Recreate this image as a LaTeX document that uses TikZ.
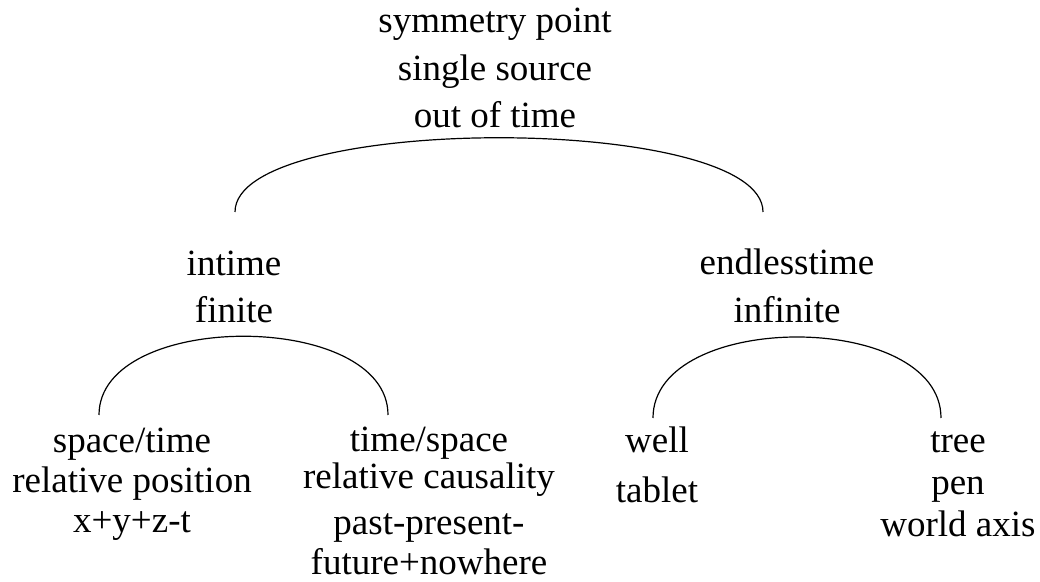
\documentclass[tikz,border=0pt]{standalone}
\usepackage{fontspec}
\setmainfont{Liberation Serif}
\usetikzlibrary{positioning}

\begin{document}
\begin{tikzpicture}[x=0.5pt, y=-0.5pt,
        lbl/.style={anchor=base, align=center, inner sep=0pt,
                    font=\fontsize{18.5}{#1}\selectfont},
        lbl/.default=23.5,
        br/.style={line width=0.6pt},
      ]
      \useasboundingbox (0,0) rectangle (1040,582);
      % nodes sit on the baseline of their last line
      \node[lbl=23.75] (root) at (495,128) {symmetry point\\single source\\out of time};
      \node[lbl=23.5] (intime) at (234,323) {intime\\finite};
      \node[lbl=24] (endless) at (787,323) {endlesstime\\infinite};
      \node[lbl=20] (spacetime) at (132,533) {space/time\\relative position\\x+y+z-t};
      \node[lbl=18.5] (timespace) at (429,575) {time/space\\relative causality\\[5pt]past-present-\\[1.5pt]future+nowhere};
      \node[lbl=25] (well) at (657,503) {well\\tablet};
      \node[lbl=21] (tree) at (958,537) {tree\\pen\\world axis};
      % arc ends
      \coordinate (root-l) at (235,212);
      \coordinate (root-r) at (763,212);
      \coordinate (intime-l) at (99,415);
      \coordinate (intime-r) at (388,415);
      \coordinate (endless-l) at (653,418);
      \coordinate (endless-r) at (941,418);
      \draw[br] (root-l) .. controls +(0,-99) and +(0,-99) .. (root-r);
      \draw[br] (intime-l) .. controls +(0,-105) and +(0,-105) .. (intime-r);
      \draw[br] (endless-l) .. controls +(0,-108) and +(0,-108) .. (endless-r);
    \end{tikzpicture}
\end{document}
